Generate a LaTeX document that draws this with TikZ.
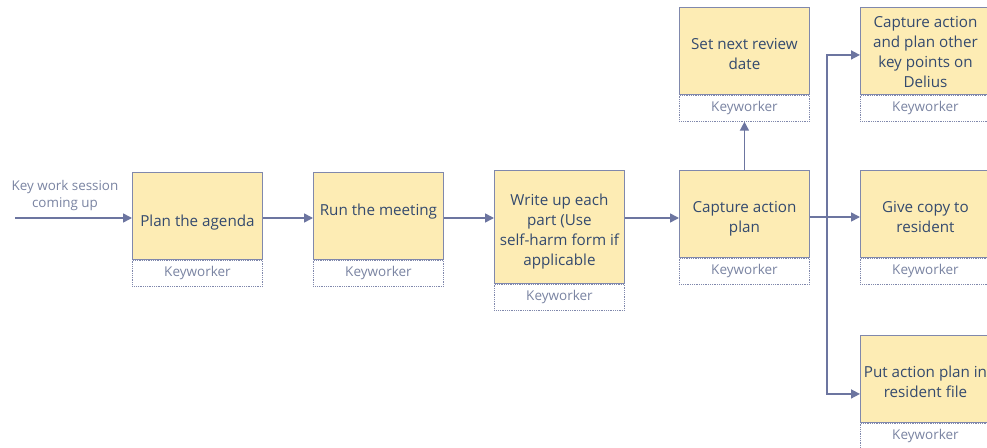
\documentclass[tikz,border=0pt]{standalone}
\usepackage{fontspec}
\setmainfont{Open Sans}
\usetikzlibrary{arrows.meta,positioning}

\definecolor{boxfill}{RGB}{253,236,180}
\definecolor{boxline}{RGB}{128,136,172}
\definecolor{flowline}{RGB}{108,117,160}
\definecolor{tasktext}{RGB}{52,74,110}
\definecolor{roletext}{RGB}{122,132,162}

\tikzset{
  task/.style={draw=boxline, fill=boxfill, line width=0.9pt, minimum width=130pt,
    minimum height=87pt, align=center, inner sep=0pt, anchor=north west,
    text depth=0pt, text height=37.5pt, font=\fontsize{15.2}{20}\selectfont, text=tasktext},
  role/.style={draw=boxline, densely dotted, line width=0.8pt, minimum width=130pt,
    minimum height=26pt, inner sep=0pt, anchor=north,
    font=\fontsize{13.5}{15}\selectfont, text=roletext},
  link/.style={draw=flowline, line width=1.6pt},
  flow/.style={link, -{Triangle[length=9pt,width=9pt]}},
}

\begin{document}
\begin{tikzpicture}[x=1pt,y=-1pt]
\clip (0,0) rectangle (987,447);
\fill[white] (0,0) rectangle (987,447);

% Text Node
\node[font=\fontsize{13.4}{17}\selectfont, text=roletext, align=center] (trigger) at (65,196) {Key work session\\coming up};

% main line
\node[task, text height=21.5pt] (plan) at (132,172) {Plan the agenda};
\node[role] (planrole) at (plan.south) {Keyworker};
\node[task, text height=11.5pt, text depth=12pt] (meeting) at (313,172) {Run the meeting};
\node[role] (meetingrole) at (meeting.south) {Keyworker};
\node[task, minimum height=113pt, text height=77.5pt] (writeup) at (494,170) {Write up each\\part (Use\\self-harm form if\\applicable};
\node[role] (writeuprole) at (writeup.south) {Keyworker};
\node[task] (capture) at (679,170) {Capture action\\plan};
\node[role] (capturerole) at (capture.south) {Keyworker};

% outputs
\node[task] (review) at (679,7) {Set next review\\date};
\node[role] (reviewrole) at (review.south) {Keyworker};
\node[task, text height=73.5pt] (delius) at (860,7) {Capture action\\and plan other\\key points on\\Delius};
\node[role] (deliusrole) at (delius.south) {Keyworker};
\node[task] (copy) at (860,170) {Give copy to\\resident};
\node[role] (copyrole) at (copy.south) {Keyworker};
\node[task] (file) at (860,335) {Put action plan in\\resident file};
\node[role] (filerole) at (file.south) {Keyworker};

% connectors
\coordinate (start) at (15,218);
\coordinate (split) at (827,217);
\draw[flow] (start) -- (start -| plan.west);
\draw[flow] (plan.east |- start) -- (meeting.west |- start);
\draw[flow] (meeting.east |- start) -- (writeup.west |- start);
\draw[flow] (writeup.east |- start) -- (capture.west |- start);
\draw[flow] (capture.north) -- (reviewrole.south);
\draw[link] (capture.east |- split) -- (split);
\draw[flow] (split) |- ([yshift=-4pt]delius.west);
\draw[flow] (split) -- (split -| copy.west);
\draw[flow] (split) |- ([yshift=-15pt]file.west);
\end{tikzpicture}
\end{document}
